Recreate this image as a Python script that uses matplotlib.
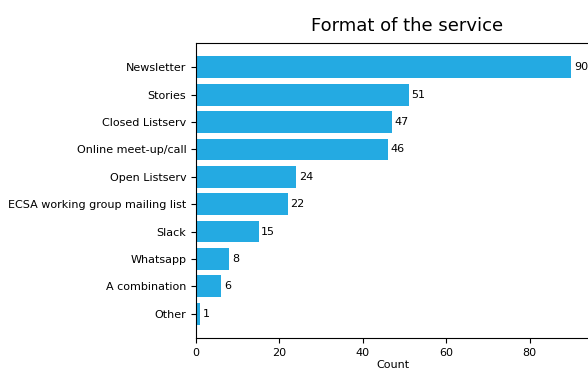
import matplotlib
matplotlib.use("Agg")
import matplotlib.pyplot as plt

categories = ["Newsletter", "Stories", "Closed Listserv", "Online meet-up/call",
              "Open Listserv", "ECSA working group mailing list", "Slack",
              "Whatsapp", "A combination", "Other"]
counts = [90, 51, 47, 46, 24, 22, 15, 8, 6, 1]

fig = plt.figure(figsize=(5.88, 3.69), dpi=100)
ax = fig.add_axes([196/588, 1-338/369, (590-196)/588, (338-43)/369])
bars = ax.barh(categories, counts, color="#24aae2")
ax.invert_yaxis()
ax.tick_params(labelsize=8)
ax.bar_label(bars, padding=2, fontsize=8)
ax.set_xlabel("Count", fontsize=8, labelpad=2)
fig.text(407/588, 1-26/369, "Format of the service", ha="center", va="center", fontsize=13)
fig.savefig("out.png", dpi=100)
